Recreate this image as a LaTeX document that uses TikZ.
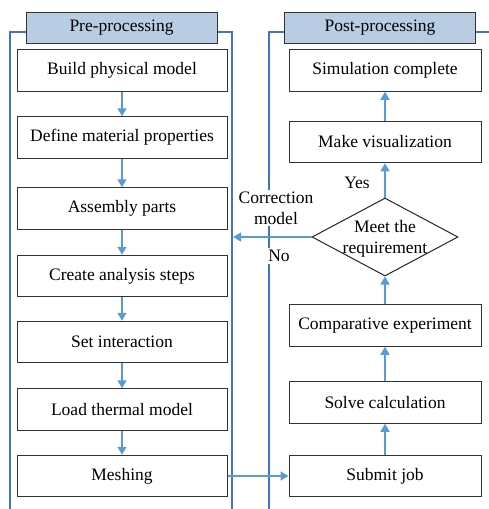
\documentclass[tikz,border=0pt]{standalone}
\usepackage{fontspec}
\setmainfont{Liberation Serif}
\usetikzlibrary{arrows.meta,shapes.geometric}
\definecolor{framecol}{RGB}{68,114,196}
\definecolor{arrowcol}{RGB}{91,155,213}
\definecolor{headcol}{RGB}{184,204,228}
\tikzset{
  panel/.style={draw=framecol, line width=1.8pt},
  panelhead/.style={draw=black!80, fill=headcol, line width=1pt, minimum width=191pt, minimum height=31pt, inner sep=0pt},
  stage/.style={draw=black!80, fill=white, line width=1pt, minimum height=41.5pt, inner sep=0pt},
  check/.style={diamond, draw=black!85, fill=white, line width=1pt, minimum width=146pt, minimum height=78pt, inner sep=0pt},
  flow/.style={draw=arrowcol, line width=1.5pt, -{Triangle[width=9pt,length=8pt]}},
  tag/.style={fill=white, align=center, inner sep=2pt}
}

\begin{document}
\begin{tikzpicture}[x=1pt, y=-1pt, font=\fontsize{17.5}{21}\selectfont]
\useasboundingbox (0,0) rectangle (489,509);
\draw [panel] (10,509) |- (232,32) -- (232,509);
\draw [panel] (269,509) |- (489,32);
\node [panelhead] (pre) at (121.5,27.5) {Pre-processing};
\node [panelhead] (post) at (380,27.5) {Post-processing};

\node [stage, minimum width=210pt] (build) at (122,70.5) {Build physical model};
\node [stage, minimum width=210pt] (material) at (122,137.5) {Define material properties};
\node [stage, minimum width=210pt] (assembly) at (122,208.5) {Assembly parts};
\node [stage, minimum width=210pt] (steps) at (122,276) {Create analysis steps};
\node [stage, minimum width=210pt] (interact) at (122,342) {Set interaction};
\node [stage, minimum width=210pt] (thermal) at (122,409.5) {Load thermal model};
\node [stage, minimum width=210pt] (mesh) at (122,476) {Meshing};

\node [stage, minimum width=192pt] (complete) at (385,70.5) {Simulation complete};
\node [stage, minimum width=192pt] (visual) at (385,142) {Make visualization};
\node [check] (meet) at (385,237) {};
\node [align=center, inner sep=0pt] (meettext) at (385,239) {Meet the\\requirement};
\node [stage, minimum width=192pt] (compare) at (385,325.5) {Comparative experiment};
\node [stage, minimum width=192pt] (solve) at (385,402.5) {Solve calculation};
\node [stage, minimum width=192pt] (submit) at (385,476) {Submit job};
\coordinate (back) at (233,237);

\draw [flow] (build) -- (material);
\draw [flow] (material) -- (assembly);
\draw [flow] (assembly) -- (steps);
\draw [flow] (steps) -- (interact);
\draw [flow] (interact) -- (thermal);
\draw [flow] (thermal) -- (mesh);
\draw [flow] (mesh) -- (submit);
\draw [flow] (submit) -- (solve);
\draw [flow] (solve) -- (compare);
\draw [flow] (compare) -- (meet);
\draw [flow] (meet) -- (visual);
\draw [flow] (visual) -- (complete);
\draw [flow] (meet.west) -- (back);

\node [tag] (corr) at (276,208) {Correction\\model};
\node [tag] (no) at (279,256) {No};
\node [inner sep=0pt] (yes) at (357,183) {Yes};
\end{tikzpicture}
\end{document}
